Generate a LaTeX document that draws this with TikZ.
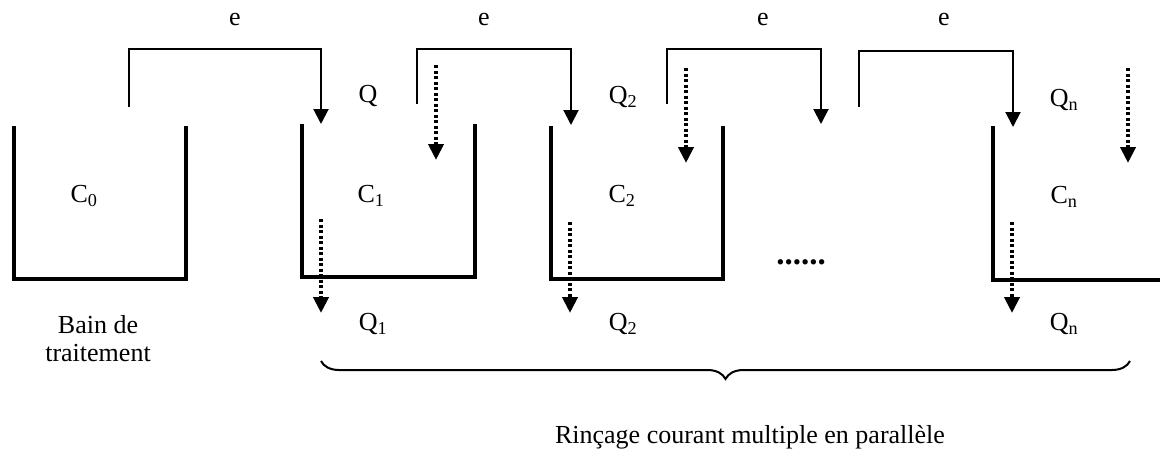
\documentclass[tikz,border=0pt]{standalone}
\usepackage{fontspec}
\setmainfont{Liberation Serif}
\usetikzlibrary{arrows.meta,decorations.pathreplacing}
\begin{document}
\begin{tikzpicture}[x=1pt,y=-1pt,
  wall/.style={line width=3.5pt},
  pipe/.style={line width=2pt,-{Triangle[width=15pt,length=15pt]}},
  dotarrow/.style={line width=4pt,dash pattern=on 3pt off 2.5pt,-{Triangle[width=15pt,length=16pt]}},
  lbl/.style={font=\fontsize{26}{28}\selectfont,inner sep=0pt},
  bracestyle/.style={line width=2pt,decorate,decoration={brace,mirror,amplitude=18pt}}]
\useasboundingbox[fill=white] (0,0) rectangle (1160,455);

% tanks
\draw[wall] (14,126) -- (14,279) -- (186,279) -- (186,126);
\draw[wall] (302,124) -- (302,277) -- (475,277) -- (475,124);
\draw[wall] (551,126) -- (551,279) -- (723,279) -- (723,126);
\draw[wall] (993,126) -- (993,280) -- (1160,280);

% pipe coordinates
\coordinate (p1s) at (129,107); \coordinate (p1c) at (321,49); \coordinate (p1t) at (321,124);
\coordinate (p2s) at (417,104); \coordinate (p2c) at (571,49); \coordinate (p2t) at (571,125);
\coordinate (p3s) at (667,104); \coordinate (p3c) at (821,49); \coordinate (p3t) at (821,124);
\coordinate (p4s) at (859,107); \coordinate (p4c) at (1013,51); \coordinate (p4t) at (1013,127);
\draw[pipe] (p1s) |- (p1c) -- (p1t);
\draw[pipe] (p2s) |- (p2c) -- (p2t);
\draw[pipe] (p3s) |- (p3c) -- (p3t);
\draw[pipe] (p4s) |- (p4c) -- (p4t);

% dotted arrows
\coordinate (d1s) at (436,65);  \coordinate (d1t) at (436,160);
\coordinate (d2s) at (686,68);  \coordinate (d2t) at (686,163);
\coordinate (d3s) at (1128,68); \coordinate (d3t) at (1128,163);
\coordinate (o1s) at (321,219); \coordinate (o1t) at (321,313);
\coordinate (o2s) at (570,222); \coordinate (o2t) at (570,313);
\coordinate (o3s) at (1012,222); \coordinate (o3t) at (1012,313);
\draw[dotarrow] (d1s) -- (d1t);
\draw[dotarrow] (d2s) -- (d2t);
\draw[dotarrow] (d3s) -- (d3t);
\draw[dotarrow] (o1s) -- (o1t);
\draw[dotarrow] (o2s) -- (o2t);
\draw[dotarrow] (o3s) -- (o3t);

% labels
\node[lbl] (e1) at (235,20) {e};
\node[lbl] (e2) at (484,20) {e};
\node[lbl] (e3) at (763,20) {e};
\node[lbl] (e4) at (944,20) {e};
\node[lbl] (qa) at (368,96) {Q};
\node[lbl] (qb) at (623,97) {Q\textsubscript{2}};
\node[lbl] (qc) at (1064,100) {Q\textsubscript{n}};
\node[lbl] (c0) at (84,196) {C\textsubscript{0}};
\node[lbl] (c1) at (371,196) {C\textsubscript{1}};
\node[lbl] (c2) at (622,196) {C\textsubscript{2}};
\node[lbl] (cn) at (1064,197) {C\textsubscript{n}};
\node[lbl] (q1) at (373,324) {Q\textsubscript{1}};
\node[lbl] (q2) at (623,324) {Q\textsubscript{2}};
\node[lbl] (qn) at (1064,324) {Q\textsubscript{n}};
\node[lbl,align=center] (bain) at (98,339) {Bain de\\traitement};
\node[lbl,font=\fontsize{33}{36}\selectfont\bfseries,anchor=base] (dots) at (801,264) {......};

% brace
\coordinate (bl) at (321,361);
\coordinate (br) at (1130,361);
\draw[bracestyle] (bl) -- (br);
\node[lbl] (rinc) at (750,437) {Rinçage courant multiple en parallèle};
\end{tikzpicture}
\end{document}
